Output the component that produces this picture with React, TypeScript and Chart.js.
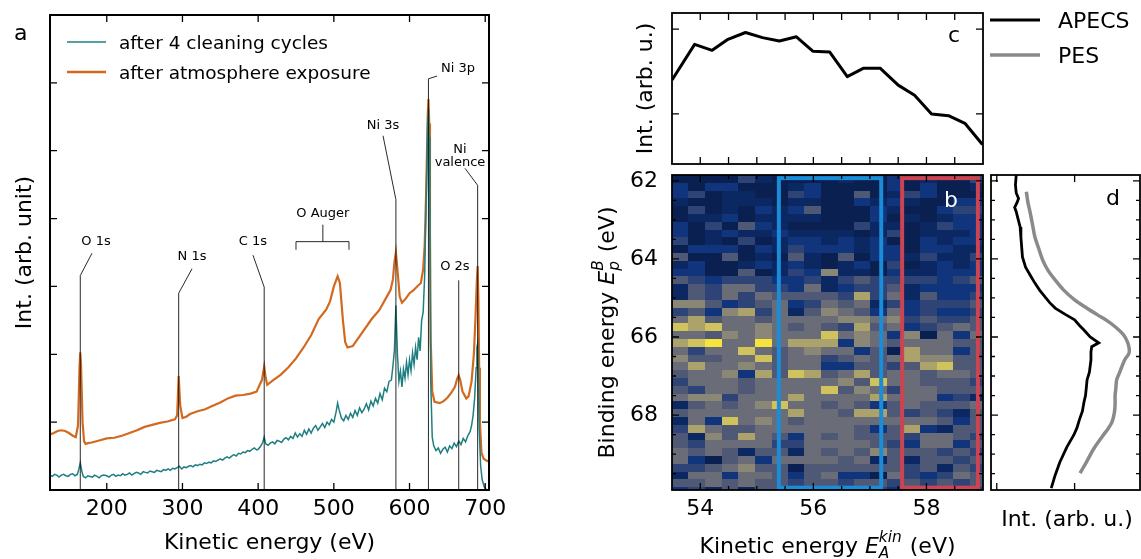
import React, { useEffect, useRef } from 'react';
import { Chart, registerables } from 'chart.js';

Chart.register(...registerables);

const PAGE_W = 1141;
const PAGE_H = 559;
const FONT = "'DejaVu Sans', 'Liberation Sans', sans-serif";
const TEAL = '#1f7f80';
const ORANGE = '#d2691e';
const PES_GRAY = '#8a8a8a';

// ---------------- panel a : survey spectra ----------------
const seriesNames = ['after 4 cleaning cycles', 'after atmosphere exposure'];

const cleanSpectrum: number[][] = [
  [125, .22], [128, .20], [131, .23], [134, .22], [137, .19], [140, .22], [143, .23], [146, .21], [149, .20], [152, .23],
  [155, .24], [158, .21], [161, .23], [163, .30], [165, .40], [167, .28], [169, .20], [172, .18], [175, .21], [178, .20],
  [181, .19], [184, .22], [187, .20], [190, .18], [193, .21], [196, .22], [200, .21], [203, .19], [206, .22], [209, .23],
  [212, .20], [215, .22], [218, .21], [221, .24], [224, .22], [227, .23], [230, .25], [233, .22], [236, .24], [239, .26],
  [242, .25], [245, .23], [248, .27], [251, .26], [254, .25], [257, .28], [260, .27], [263, .26], [266, .29], [269, .28],
  [272, .27], [275, .30], [278, .29], [281, .31], [284, .29], [287, .32], [290, .31], [293, .33], [296, .35], [299, .31],
  [302, .34], [305, .33], [308, .35], [311, .36], [314, .34], [317, .37], [320, .36], [323, .38], [326, .37], [329, .40],
  [332, .39], [335, .41], [338, .40], [341, .43], [344, .42], [347, .44], [350, .46], [353, .44], [356, .47], [359, .49],
  [362, .47], [365, .50], [368, .52], [371, .50], [374, .54], [377, .53], [380, .56], [383, .55], [386, .58], [389, .57],
  [392, .60], [395, .62], [398, .59], [400, .60], [403, .64], [406, .70], [408, .78], [410, .68], [413, .66], [416, .69],
  [419, .71], [422, .68], [425, .73], [428, .72], [431, .70], [434, .75], [437, .77], [440, .74], [443, .79], [446, .76],
  [449, .84], [452, .78], [455, .83], [458, .79], [461, .88], [464, .82], [467, .90], [470, .84], [473, .91], [476, .95],
  [479, .88], [482, .93], [485, .98], [488, .92], [491, 1.00], [494, .96], [497, 1.04], [500, 1.00], [503, 1.15], [505, 1.28],
  [507, 1.18], [510, 1.06], [513, 1.02], [516, 1.10], [519, 1.04], [522, 1.13], [525, 1.07], [528, 1.17], [531, 1.10], [534, 1.21],
  [537, 1.14], [540, 1.19], [543, 1.27], [546, 1.18], [549, 1.31], [552, 1.24], [555, 1.35], [558, 1.28], [561, 1.42], [564, 1.33],
  [567, 1.50], [570, 1.45], [573, 1.60], [576, 1.62], [578, 1.82], [580, 2.05], [582, 2.72], [584, 2.00], [586, 1.60], [588, 1.75],
  [590, 1.52], [592, 1.78], [594, 1.65], [596, 1.88], [598, 1.70], [600, 1.92], [602, 1.76], [604, 2.02], [606, 1.85], [608, 2.10],
  [610, 1.92], [612, 2.25], [614, 2.05], [616, 2.50], [618, 2.62], [620, 3.15], [622, 4.30], [624, 5.40], [625, 5.62], [626, 5.20],
  [627, 3.60], [628, 1.60], [630, .78], [632, .65], [635, .58], [638, .62], [641, .54], [644, .60], [647, .63], [650, .56],
  [653, .65], [656, .61], [659, .69], [662, .64], [665, .72], [668, .67], [671, .76], [674, .71], [677, .80], [680, .86],
  [682, .95], [684, 1.10], [686, 1.35], [688, 1.80], [689, 2.10], [690, 2.16], [691, 1.60], [692, .90], [694, .35], [696, .15],
  [699, .04], [702, .00], [705, .00],
];

const exposedSpectrum: number[][] = [
  [125, .82], [130, .84], [135, .87], [140, .88], [145, .87], [150, .84], [155, .80], [159, .78], [162, .95], [164, 1.8],
  [165, 2.03], [166, 1.85], [168, 1.0], [170, .72], [172, .68], [175, .69], [180, .70], [190, .73], [200, .76], [210, .77],
  [220, .80], [230, .84], [240, .88], [250, .93], [260, .96], [270, .99], [280, 1.01], [290, 1.04], [293, 1.10], [295, 1.68],
  [297, 1.25], [300, 1.06], [305, 1.08], [310, 1.12], [320, 1.16], [330, 1.19], [340, 1.24], [350, 1.29], [360, 1.35], [370, 1.39],
  [380, 1.40], [390, 1.42], [398, 1.45], [402, 1.55], [405, 1.62], [408, 1.82], [410, 1.65], [412, 1.55], [420, 1.62], [430, 1.70],
  [440, 1.81], [450, 1.94], [460, 2.10], [470, 2.28], [480, 2.52], [490, 2.66], [495, 2.78], [500, 3.00], [505, 3.15], [508, 3.05],
  [512, 2.50], [515, 2.18], [518, 2.10], [525, 2.12], [530, 2.20], [540, 2.36], [550, 2.52], [560, 2.65], [570, 2.85], [575, 2.95],
  [578, 3.10], [580, 3.35], [582, 3.50], [584, 3.25], [587, 2.85], [590, 2.76], [595, 2.82], [600, 2.90], [605, 2.94], [610, 3.00],
  [615, 3.05], [618, 3.25], [620, 3.60], [622, 4.40], [624, 5.50], [625, 5.76], [626, 5.40], [627, 3.80], [628, 2.20], [630, 1.45],
  [633, 1.30], [640, 1.28], [645, 1.31], [650, 1.36], [655, 1.43], [660, 1.52], [663, 1.64], [665, 1.69], [667, 1.62], [670, 1.45],
  [675, 1.35], [678, 1.38], [682, 1.60], [685, 2.00], [687, 2.50], [689, 3.10], [690, 3.30], [691, 2.80], [692, 1.80], [693, 1.00],
  [695, .55], [698, .46], [702, .43], [705, .42],
];

const surveyTicksX = [200, 300, 400, 500, 600, 700];
const surveyTicksY = [1, 2, 3, 4, 5, 6];

const peakNames = [['O 1s'], ['N 1s'], ['C 1s'], ['Ni 3s'], ['Ni 3p'], ['O 2s'], ['Ni', 'valence']];
const peakEnergy = [165, 295, 408, 582, 625, 665, 690];
const leaderTop = [3.16, 2.90, 2.99, 4.28, 6.06, 3.09, 4.49];
const leaderEndE = [180.5, 312.6, 393.2, 565, 636.3, 665, 673.3];
const leaderEndI = [3.49, 3.26, 3.46, 5.22, 6.10, 3.09, 4.74];
const labelE = [185.8, 312.6, 393.2, 565, 664, 660, 666.7];
const labelI = [3.66, 3.44, 3.66, 5.37, 6.21, 3.29, 5.01];
const augerName = 'O Auger';
const augerRange = [450, 520];
const augerCenter = 485.5;
const augerLevels = { arm: 3.66, foot: 3.54, stem: 3.91, label: 4.07 };

// ---------------- panel c : APECS vs kinetic energy ----------------
const cKinetic = [53.5, 53.9, 54.21, 54.49, 54.8, 55.1, 55.4, 55.7, 55.99, 56.29, 56.6, 56.89, 57.18, 57.5, 57.79, 58.09, 58.39, 58.68, 58.99];
const cIntensity = [1.40, 1.82, 1.75, 1.88, 1.96, 1.90, 1.86, 1.91, 1.74, 1.73, 1.44, 1.54, 1.54, 1.34, 1.22, 1.00, 0.98, 0.89, 0.64];
const kineticMajor = [54, 56, 58];
const kineticMinor = [54.5, 55, 55.5, 56.5, 57, 57.5, 58.5];
const cTicksY = [1, 2];

// ---------------- panel b : heat map ----------------
const kineticEdges = [53.5, 53.79, 54.09, 54.38, 54.67, 54.96, 55.26, 55.55, 55.84, 56.13, 56.43, 56.72, 57.01, 57.3, 57.6, 57.89, 58.18, 58.47, 58.77, 59.06];
const bindingEdges = [
  61.85, 62.05, 62.25, 62.45, 62.65, 62.85, 63.05, 63.25, 63.45, 63.65, 63.85, 64.05, 64.25, 64.45, 64.65, 64.85, 65.05,
  65.25, 65.45, 65.65, 65.85, 66.05, 66.25, 66.45, 66.65, 66.85, 67.05, 67.25, 67.45, 67.65, 67.85, 68.05, 68.25, 68.45,
  68.65, 68.85, 69.05, 69.25, 69.45, 69.65, 69.85, 70.05,
];
const heatValues = [
  [0, 0, 0, 0, 3, 1, 0, 0, 0, 0, 1, 0, 0, 2, 0, 1, 0, 0, 3],
  [2, 0, 2, 2, 0, 0, 0, 1, 2, 0, 0, 0, 0, 2, 0, 2, 0, 0, 1],
  [2, 3, 0, 1, 1, 0, 0, 3, 2, 0, 0, 4, 0, 1, 3, 2, 0, 0, 0],
  [1, 0, 0, 1, 1, 1, 0, 1, 1, 0, 0, 2, 1, 2, 1, 0, 0, 2, 2],
  [0, 3, 0, 1, 0, 2, 1, 2, 4, 0, 0, 0, 2, 1, 0, 0, 2, 3, 3],
  [0, 1, 1, 2, 0, 1, 1, 1, 1, 0, 0, 0, 2, 0, 1, 0, 1, 2, 2],
  [2, 0, 3, 0, 4, 2, 1, 0, 0, 0, 0, 3, 1, 1, 0, 1, 3, 2, 2],
  [2, 0, 1, 2, 1, 1, 2, 1, 1, 1, 1, 0, 1, 3, 0, 1, 1, 1, 2],
  [3, 0, 1, 0, 3, 0, 1, 2, 2, 1, 2, 1, 2, 0, 0, 2, 1, 2, 2],
  [0, 2, 2, 2, 0, 2, 1, 3, 2, 2, 2, 1, 2, 2, 0, 2, 2, 1, 1],
  [4, 0, 0, 4, 0, 1, 0, 4, 1, 0, 4, 0, 2, 2, 1, 3, 1, 1, 3],
  [1, 2, 0, 0, 1, 2, 1, 2, 1, 0, 1, 2, 0, 3, 0, 1, 2, 1, 2],
  [2, 2, 0, 0, 4, 0, 1, 3, 2, 6, 1, 1, 0, 2, 1, 1, 2, 2, 2],
  [4, 3, 2, 3, 3, 3, 2, 2, 3, 1, 3, 4, 3, 3, 3, 3, 2, 3, 4],
  [1, 4, 3, 5, 5, 3, 3, 2, 5, 1, 2, 3, 3, 4, 1, 2, 2, 2, 2],
  [1, 4, 3, 5, 3, 5, 4, 4, 4, 4, 3, 7, 3, 5, 1, 4, 2, 2, 3],
  [6, 6, 4, 2, 3, 4, 5, 2, 3, 5, 4, 5, 1, 3, 2, 3, 3, 3, 4],
  [3, 4, 2, 6, 7, 3, 5, 1, 4, 6, 5, 4, 2, 5, 2, 3, 2, 2, 3],
  [5, 7, 4, 5, 5, 4, 5, 5, 5, 5, 6, 6, 5, 6, 3, 4, 3, 3, 4],
  [8, 7, 8, 5, 5, 6, 5, 4, 5, 4, 3, 7, 4, 5, 2, 3, 4, 5, 4],
  [5, 5, 4, 6, 5, 6, 5, 5, 5, 8, 5, 6, 5, 2, 6, 0, 5, 2, 5],
  [7, 8, 9, 5, 5, 9, 5, 7, 7, 7, 2, 6, 5, 4, 5, 5, 5, 4, 4],
  [5, 3, 5, 5, 8, 5, 4, 5, 6, 5, 5, 2, 4, 0, 7, 5, 5, 2, 4],
  [6, 4, 4, 5, 5, 8, 4, 5, 5, 3, 4, 5, 4, 5, 7, 6, 6, 4, 4],
  [5, 7, 5, 5, 6, 5, 4, 5, 5, 2, 2, 4, 4, 3, 4, 7, 8, 4, 4],
  [4, 5, 5, 6, 2, 7, 4, 8, 7, 4, 5, 7, 4, 5, 5, 4, 5, 5, 4],
  [3, 5, 5, 5, 4, 5, 5, 5, 5, 5, 6, 4, 8, 5, 5, 4, 4, 4, 3],
  [4, 3, 5, 5, 4, 5, 5, 5, 5, 8, 4, 6, 5, 3, 5, 5, 4, 4, 4],
  [5, 6, 6, 3, 5, 5, 5, 7, 5, 5, 5, 5, 7, 5, 5, 5, 2, 3, 1],
  [1, 4, 5, 4, 5, 6, 8, 5, 5, 4, 5, 4, 2, 4, 5, 4, 4, 4, 5],
  [4, 5, 5, 5, 5, 5, 5, 7, 5, 5, 4, 7, 7, 4, 3, 4, 3, 1, 4],
  [1, 5, 2, 8, 5, 6, 5, 4, 5, 5, 5, 5, 5, 5, 5, 5, 4, 2, 4],
  [3, 7, 5, 4, 4, 5, 5, 5, 5, 5, 5, 4, 2, 4, 7, 2, 1, 4, 4],
  [4, 1, 6, 4, 7, 5, 4, 2, 5, 4, 5, 4, 4, 4, 3, 5, 5, 4, 3],
  [4, 3, 5, 5, 5, 5, 3, 3, 5, 5, 5, 5, 4, 3, 2, 5, 5, 2, 4],
  [5, 4, 5, 4, 1, 4, 4, 1, 5, 4, 5, 4, 6, 4, 4, 4, 3, 4, 3],
  [5, 2, 0, 4, 5, 2, 5, 5, 5, 5, 4, 5, 1, 4, 1, 4, 4, 3, 4],
  [3, 3, 4, 5, 6, 4, 4, 0, 4, 4, 4, 4, 4, 4, 3, 4, 1, 4, 3],
  [1, 5, 5, 2, 5, 5, 4, 2, 4, 5, 2, 2, 0, 5, 3, 2, 3, 5, 4],
  [4, 4, 5, 4, 5, 4, 4, 3, 4, 4, 3, 4, 4, 3, 4, 3, 4, 3, 4],
  [2, 3, 1, 4, 1, 4, 4, 3, 4, 3, 4, 3, 3, 2, 3, 3, 3, 2, 3],
];
const heatColors = ['#0a2050', '#0c2862', '#10357d', '#2e4476', '#4f5874', '#6a6d78', '#8a8777', '#aca36c', '#d0c25c', '#f6e33e'];
const windowKinetic = [[55.39, 57.2], [57.57, 58.91]];
const windowBinding = [61.93, 69.86];
const windowColors = ['#1a8cd8', '#cc4352'];
const bindingMajor = [62, 64, 66, 68];
const bindingMinor = [62.5, 63, 63.5, 64.5, 65, 65.5, 66.5, 67, 67.5, 68.5, 69, 69.5];

// ---------------- panel d : APECS / PES vs binding energy ----------------
const lineNames = ['APECS', 'PES'];
const apecsBinding = [61.85, 62.1, 62.31, 62.45, 62.56, 62.68, 62.79, 62.95, 63.18, 63.45, 63.69, 63.95, 64.21, 64.42, 64.62, 64.8, 64.97, 65.12, 65.26, 65.42, 65.56, 65.7, 65.82, 66.0, 66.15, 66.25, 66.38, 66.59, 66.9, 67.1, 67.31, 67.5, 67.67, 67.9, 68.13, 68.33, 68.51, 68.82, 69.21, 69.54, 69.87];
const apecsInt = [0.25, 0.24, 0.25, 0.28, 0.26, 0.23, 0.25, 0.27, 0.30, 0.31, 0.32, 0.33, 0.37, 0.43, 0.49, 0.55, 0.62, 0.68, 0.75, 0.88, 1.00, 1.06, 1.12, 1.20, 1.31, 1.22, 1.21, 1.21, 1.19, 1.16, 1.15, 1.14, 1.12, 1.10, 1.06, 1.03, 0.99, 0.90, 0.81, 0.75, 0.70];
const pesBinding = [62.28, 62.55, 62.82, 63.13, 63.44, 63.74, 64.03, 64.3, 64.54, 64.8, 65.05, 65.25, 65.44, 65.6, 65.77, 65.95, 66.13, 66.28, 66.41, 66.6, 66.9, 67.1, 67.31, 67.5, 67.74, 67.95, 68.18, 68.35, 68.51, 68.85, 69.21, 69.49];
const pesInt = [0.38, 0.40, 0.43, 0.46, 0.49, 0.54, 0.59, 0.66, 0.75, 0.86, 1.0, 1.15, 1.30, 1.43, 1.54, 1.63, 1.68, 1.70, 1.70, 1.64, 1.58, 1.54, 1.53, 1.52, 1.52, 1.51, 1.48, 1.43, 1.37, 1.25, 1.15, 1.07];
const dTicksX = [0, 1];

// ---------------- helpers ----------------
const f = (size: number, style = '') => `${style ? style + ' ' : ''}${size}px ${FONT}`;
const X_AXIS_H = 40;
const Y_AXIS_W = 60;

function axis(min: number, max: number, horizontal: boolean, labels: number[] | null, extra: any = {}) {
  return {
    type: 'linear',
    min,
    max,
    display: !!labels,
    grid: { display: false, drawTicks: false },
    border: { display: false },
    ticks: {
      display: !!labels,
      font: { family: FONT, size: 22 },
      color: '#000',
      padding: horizontal ? 6 : 14,
      autoSkip: false,
      maxRotation: 0,
      minRotation: 0,
    },
    afterBuildTicks: (s: any) => {
      if (labels) s.ticks = labels.map((v) => ({ value: v }));
    },
    afterFit: (s: any) => {
      if (horizontal) s.height = labels ? X_AXIS_H : 0;
      else s.width = labels ? Y_AXIS_W : 0;
    },
    ...extra,
  };
}

function framePlugin(xTicks: number[][], yTicks: number[][], width = 1.8) {
  return {
    id: 'frame',
    afterDatasetsDraw(chart: any) {
      const { ctx, chartArea: a, scales } = chart;
      ctx.save();
      ctx.strokeStyle = '#000';
      ctx.lineWidth = width;
      ctx.strokeRect(a.left, a.top, a.right - a.left, a.bottom - a.top);
      ctx.lineWidth = 1.3;
      ctx.beginPath();
      for (const [v, len] of xTicks) {
        const px = scales.x.getPixelForValue(v);
        ctx.moveTo(px, a.bottom);
        ctx.lineTo(px, a.bottom - len);
        ctx.moveTo(px, a.top);
        ctx.lineTo(px, a.top + len);
      }
      for (const [v, len] of yTicks) {
        const py = scales.y.getPixelForValue(v);
        ctx.moveTo(a.left, py);
        ctx.lineTo(a.left + len, py);
        ctx.moveTo(a.right, py);
        ctx.lineTo(a.right - len, py);
      }
      ctx.stroke();
      ctx.restore();
    },
  };
}

type Part = { t?: string; it?: boolean; sub?: string; sup?: string };

function drawRich(ctx: CanvasRenderingContext2D, parts: Part[], cx: number, cy: number, rotate: boolean, size = 22) {
  const small = size * 0.7;
  const widths = parts.map((p) => {
    if (p.t !== undefined) {
      ctx.font = f(size, p.it ? 'italic' : '');
      return ctx.measureText(p.t).width;
    }
    ctx.font = f(small, 'italic');
    return Math.max(ctx.measureText(p.sub || '').width, ctx.measureText(p.sup || '').width) + 1;
  });
  const total = widths.reduce((s, w) => s + w, 0);
  ctx.save();
  ctx.translate(cx, cy);
  if (rotate) ctx.rotate(-Math.PI / 2);
  ctx.fillStyle = '#000';
  ctx.textAlign = 'left';
  ctx.textBaseline = 'alphabetic';
  let x = -total / 2;
  parts.forEach((p, i) => {
    if (p.t !== undefined) {
      ctx.font = f(size, p.it ? 'italic' : '');
      ctx.fillText(p.t, x, 0);
    } else {
      ctx.font = f(small, 'italic');
      if (p.sub) ctx.fillText(p.sub, x, 5);
      if (p.sup) ctx.fillText(p.sup, x, -11);
    }
    x += widths[i];
  });
  ctx.restore();
}

function drawRotated(ctx: CanvasRenderingContext2D, s: string, x: number, y: number, size = 22) {
  ctx.save();
  ctx.translate(x, y);
  ctx.rotate(-Math.PI / 2);
  ctx.font = f(size);
  ctx.fillStyle = '#000';
  ctx.textAlign = 'center';
  ctx.textBaseline = 'alphabetic';
  ctx.fillText(s, 0, 0);
  ctx.restore();
}

function text(ctx: CanvasRenderingContext2D, s: string, x: number, y: number, size: number, align: CanvasTextAlign = 'center', color = '#000', baseline: CanvasTextBaseline = 'alphabetic') {
  ctx.save();
  ctx.font = f(size);
  ctx.fillStyle = color;
  ctx.textAlign = align;
  ctx.textBaseline = baseline;
  ctx.fillText(s, x, y);
  ctx.restore();
}

const baseOptions = (padding: any) => ({
  responsive: false,
  maintainAspectRatio: false,
  animation: false,
  events: [],
  layout: { padding },
  plugins: { legend: { display: false }, tooltip: { enabled: false }, title: { display: false } },
});

// ---------------- chart configs ----------------
function configA(): any {
  const annotations = {
    id: 'peaks',
    afterDatasetsDraw(chart: any) {
      const { ctx, scales: { x, y } } = chart;
      ctx.save();
      ctx.strokeStyle = '#111';
      ctx.lineWidth = 0.9;
      ctx.beginPath();
      peakEnergy.forEach((e, i) => {
        const px = x.getPixelForValue(e);
        ctx.moveTo(px, y.getPixelForValue(0));
        ctx.lineTo(px, y.getPixelForValue(leaderTop[i]));
        ctx.lineTo(x.getPixelForValue(leaderEndE[i]), y.getPixelForValue(leaderEndI[i]));
      });
      const l = x.getPixelForValue(augerRange[0]);
      const r = x.getPixelForValue(augerRange[1]);
      const arm = y.getPixelForValue(augerLevels.arm);
      const foot = y.getPixelForValue(augerLevels.foot);
      const c = x.getPixelForValue(augerCenter);
      ctx.moveTo(l, foot);
      ctx.lineTo(l, arm);
      ctx.lineTo(r, arm);
      ctx.lineTo(r, foot);
      ctx.moveTo(c, arm);
      ctx.lineTo(c, y.getPixelForValue(augerLevels.stem));
      ctx.stroke();
      ctx.restore();
      peakNames.forEach((lines, i) => {
        lines.forEach((s, k) => {
          text(ctx, s, x.getPixelForValue(labelE[i]), y.getPixelForValue(labelI[i]) + k * 13, 13, 'center', '#000', 'middle');
        });
      });
      text(ctx, augerName, c, y.getPixelForValue(augerLevels.label), 13, 'center', '#000', 'middle');
    },
  };
  const overlay = {
    id: 'overlayA',
    afterDraw(chart: any) {
      const { ctx, chartArea: a } = chart;
      text(ctx, 'a', 14, 40, 22, 'left');
      const cols = [TEAL, ORANGE];
      const widths = [1.6, 2.6];
      [42, 72].forEach((ly, i) => {
        ctx.save();
        ctx.strokeStyle = cols[i];
        ctx.lineWidth = widths[i];
        ctx.beginPath();
        ctx.moveTo(67, ly);
        ctx.lineTo(106, ly);
        ctx.stroke();
        ctx.restore();
        text(ctx, seriesNames[i], 119, ly + 7, 18.5, 'left');
      });
      text(ctx, 'Kinetic energy (eV)', (a.left + a.right) / 2, 549, 22);
      drawRotated(ctx, 'Int. (arb. unit)', 31, (a.top + a.bottom) / 2, 22);
    },
  };
  return {
    type: 'line',
    data: {
      datasets: [
        { label: seriesNames[0], data: cleanSpectrum.map(([x, y]) => ({ x, y })), borderColor: TEAL, borderWidth: 1.5, pointRadius: 0, tension: 0 },
        { label: seriesNames[1], data: exposedSpectrum.map(([x, y]) => ({ x, y })), borderColor: ORANGE, borderWidth: 2.2, pointRadius: 0, tension: 0 },
      ],
    },
    options: {
      ...baseOptions({ left: 50, top: 15, right: PAGE_W - 489, bottom: PAGE_H - 490 - X_AXIS_H }),
      scales: {
        x: axis(125, 705, true, surveyTicksX),
        y: axis(0, 7, false, null),
      },
    },
    plugins: [annotations, framePlugin(surveyTicksX.map((v) => [v, 7]), surveyTicksY.map((v) => [v, 7]), 2), overlay],
  };
}

function configC(): any {
  const overlay = {
    id: 'overlayC',
    afterDraw(chart: any) {
      const { ctx, chartArea: a } = chart;
      text(ctx, 'c', 954, 42, 22);
      drawRotated(ctx, 'Int. (arb. u.)', 652, (a.top + a.bottom) / 2, 22);
      const cols = ['#000', PES_GRAY];
      const widths = [3, 3.5];
      [20, 55].forEach((ly, i) => {
        ctx.save();
        ctx.strokeStyle = cols[i];
        ctx.lineWidth = widths[i];
        ctx.beginPath();
        ctx.moveTo(990, ly);
        ctx.lineTo(1040, ly);
        ctx.stroke();
        ctx.restore();
        text(ctx, lineNames[i], 1058, ly + 8, 22, 'left');
      });
    },
  };
  return {
    type: 'line',
    data: {
      datasets: [
        { data: cKinetic.map((x, i) => ({ x, y: cIntensity[i] })), borderColor: '#000', borderWidth: 3, pointRadius: 0, tension: 0, borderJoinStyle: 'round' },
      ],
    },
    options: {
      ...baseOptions({ left: 672, top: 13, right: PAGE_W - 983, bottom: PAGE_H - 164 }),
      scales: {
        x: axis(53.5, 59.0, true, null),
        y: axis(0.41, 2.19, false, null),
      },
    },
    plugins: [
      framePlugin([...kineticMajor, ...kineticMinor].map((v) => [v, 7]), cTicksY.map((v) => [v, 7])),
      overlay,
    ],
  };
}

function configB(): any {
  const heat = {
    id: 'heat',
    beforeDatasetsDraw(chart: any) {
      const { ctx, chartArea: a, scales: { x, y } } = chart;
      ctx.save();
      ctx.beginPath();
      ctx.rect(a.left, a.top, a.right - a.left, a.bottom - a.top);
      ctx.clip();
      heatValues.forEach((row, r) => {
        const y0 = Math.round(y.getPixelForValue(bindingEdges[r]));
        const y1 = Math.round(y.getPixelForValue(bindingEdges[r + 1]));
        row.forEach((v, c) => {
          const x0 = Math.round(x.getPixelForValue(kineticEdges[c]));
          const x1 = Math.round(x.getPixelForValue(kineticEdges[c + 1]));
          ctx.fillStyle = heatColors[v];
          ctx.fillRect(x0, Math.min(y0, y1), x1 - x0, Math.abs(y1 - y0));
        });
      });
      ctx.restore();
    },
    afterDatasetsDraw(chart: any) {
      const { ctx, scales: { x, y } } = chart;
      ctx.save();
      ctx.lineWidth = 4;
      windowKinetic.forEach(([k0, k1], i) => {
        ctx.strokeStyle = windowColors[i];
        const l = x.getPixelForValue(k0);
        const r = x.getPixelForValue(k1);
        const t = y.getPixelForValue(windowBinding[0]);
        const b = y.getPixelForValue(windowBinding[1]);
        ctx.strokeRect(l, t, r - l, b - t);
      });
      ctx.restore();
    },
  };
  const overlay = {
    id: 'overlayB',
    afterDraw(chart: any) {
      const { ctx, chartArea: a } = chart;
      text(ctx, 'b', 951, 207, 22, 'center', '#fff');
      drawRich(ctx, [{ t: 'Binding energy ' }, { t: 'E', it: true }, { sub: 'p', sup: 'B' }, { t: ' (eV)' }], 614, (a.top + a.bottom) / 2, true);
      drawRich(ctx, [{ t: 'Kinetic energy ' }, { t: 'E', it: true }, { sub: 'A', sup: 'kin' }, { t: ' (eV)' }], (a.left + a.right) / 2, 553, false);
    },
  };
  return {
    type: 'scatter',
    data: { datasets: [] },
    options: {
      ...baseOptions({ left: 672 - Y_AXIS_W, top: 175, right: PAGE_W - 983, bottom: PAGE_H - 490 - X_AXIS_H }),
      scales: {
        x: axis(53.5, 59.0, true, kineticMajor),
        y: axis(61.85, 69.92, false, bindingMajor, { reverse: true }),
      },
    },
    plugins: [
      heat,
      framePlugin(
        [...kineticMajor.map((v) => [v, 7]), ...kineticMinor.map((v) => [v, 4])],
        [...bindingMajor.map((v) => [v, 7]), ...bindingMinor.map((v) => [v, 4])],
      ),
      overlay,
    ],
  };
}

function configD(): any {
  const overlay = {
    id: 'overlayD',
    afterDraw(chart: any) {
      const { ctx } = chart;
      text(ctx, 'd', 1113, 205, 22);
      text(ctx, 'Int. (arb. u.)', 1067, 526, 22);
    },
  };
  return {
    type: 'line',
    data: {
      datasets: [
        { label: lineNames[0], data: apecsBinding.map((y, i) => ({ x: apecsInt[i], y })), borderColor: '#000', borderWidth: 2.8, pointRadius: 0, tension: 0 },
        { label: lineNames[1], data: pesBinding.map((y, i) => ({ x: pesInt[i], y })), borderColor: PES_GRAY, borderWidth: 3.5, pointRadius: 0, tension: 0.3 },
      ],
    },
    options: {
      ...baseOptions({ left: 991, top: 175, right: PAGE_W - 1140, bottom: PAGE_H - 490 }),
      indexAxis: 'y',
      scales: {
        x: axis(-0.074, 1.84, true, null),
        y: axis(61.85, 69.92, false, null, { reverse: true }),
      },
    },
    plugins: [
      framePlugin(dTicksX.map((v) => [v, 7]), [...bindingMajor.map((v) => [v, 7]), ...bindingMinor.map((v) => [v, 4])]),
      overlay,
    ],
  };
}

export default function App() {
  const refA = useRef<HTMLCanvasElement>(null);
  const refB = useRef<HTMLCanvasElement>(null);
  const refC = useRef<HTMLCanvasElement>(null);
  const refD = useRef<HTMLCanvasElement>(null);

  useEffect(() => {
    const charts = [
      new Chart(refA.current as HTMLCanvasElement, configA()),
      new Chart(refC.current as HTMLCanvasElement, configC()),
      new Chart(refB.current as HTMLCanvasElement, configB()),
      new Chart(refD.current as HTMLCanvasElement, configD()),
    ];
    return () => charts.forEach((c) => c.destroy());
  }, []);

  const cs: React.CSSProperties = { position: 'absolute', left: 0, top: 0, width: PAGE_W, height: PAGE_H };
  return (
    <div style={{ position: 'fixed', left: 0, top: 0, width: PAGE_W, height: PAGE_H, background: '#fff' }}>
      <canvas ref={refA} width={PAGE_W} height={PAGE_H} style={cs} />
      <canvas ref={refC} width={PAGE_W} height={PAGE_H} style={cs} />
      <canvas ref={refB} width={PAGE_W} height={PAGE_H} style={cs} />
      <canvas ref={refD} width={PAGE_W} height={PAGE_H} style={cs} />
    </div>
  );
}
